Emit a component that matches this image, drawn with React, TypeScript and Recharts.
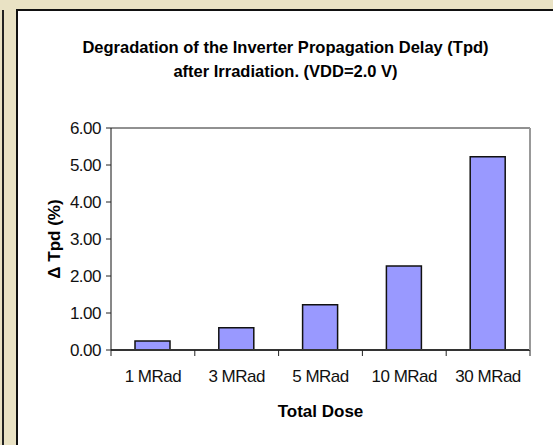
import React from "react";
import {
  BarChart,
  Bar,
  XAxis,
  YAxis,
  CartesianGrid,
} from "recharts";

const categories = ["1 MRad", "3 MRad", "5 MRad", "10 MRad", "30 MRad"];
const deltaTpd = [0.24, 0.6, 1.22, 2.27, 5.22];
const yTicks = [0, 1, 2, 3, 4, 5, 6];

const FONT = "'Liberation Sans', Arial, sans-serif";
const PLOT_LEFT = 111;
const PLOT_RIGHT = 530;
const BAND = (PLOT_RIGHT - PLOT_LEFT) / categories.length;

// category labels with tick marks between the categories (Excel style)
const DoseTick = (props: any) => {
  const { x, y, payload, index } = props;
  const left = x - BAND / 2;
  return (
    <g>
      <line x1={left} y1={y} x2={left} y2={y + 6} stroke="#222" strokeWidth={1} />
      {index === categories.length - 1 && (
        <line x1={x + BAND / 2} y1={y} x2={x + BAND / 2} y2={y + 6} stroke="#222" strokeWidth={1} />
      )}
      <text
        x={x}
        y={y + 32}
        textAnchor="middle"
        fontSize={17}
        letterSpacing={-0.5}
        fill="#111"
        fontFamily={FONT}
      >
        {payload.value}
      </text>
    </g>
  );
};

export default function App() {
  const data = categories.map((dose, i) => ({ dose, tpd: deltaTpd[i] }));

  return (
    <div
      style={{
        position: "fixed",
        left: 0,
        top: 0,
        width: 553,
        height: 445,
        background: "#e9e2c4",
        overflow: "hidden",
        fontFamily: FONT,
      }}
    >
      {/* dark strip on the far left */}
      <div style={{ position: "absolute", left: 2, top: 10, width: 2, height: 440, background: "#222" }} />
      {/* white chart sheet */}
      <div
        style={{
          position: "absolute",
          left: 16,
          top: 9,
          width: 545,
          height: 445,
          background: "#fff",
          borderLeft: "2px solid #111",
          borderTop: "2px solid #111",
        }}
      />
      <div
        style={{
          position: "absolute",
          left: 18,
          top: 35,
          width: 535,
          textAlign: "center",
          fontWeight: "bold",
          fontSize: 16.5,
          lineHeight: "24px",
          color: "#000",
        }}
      >
        Degradation of the Inverter Propagation Delay (Tpd)
        <br />
        after Irradiation. (VDD=2.0 V)
      </div>
      <div style={{ position: "absolute", left: 0, top: 0 }}>
        <BarChart
          width={553}
          height={445}
          data={data}
          margin={{ top: 128, right: 22, bottom: 20, left: 20 }}
          barCategoryGap={0}
        >
          <CartesianGrid vertical={false} stroke="#222" strokeWidth={1} />
          <XAxis
            dataKey="dose"
            height={75}
            interval={0}
            tickLine={false}
            tickSize={0}
            tickMargin={0}
            axisLine={{ stroke: "#333", strokeWidth: 2 }}
            tick={<DoseTick />}
            label={{
              value: "Total Dose",
              position: "insideBottom",
              offset: 8,
              style: { fontWeight: "bold", fontSize: 17, fill: "#000", fontFamily: FONT },
            }}
          />
          <YAxis
            yAxisId="left"
            width={91}
            domain={[0, 6]}
            ticks={yTicks}
            tickFormatter={(v: number) => v.toFixed(2)}
            tickSize={5}
            tickMargin={5}
            tickLine={{ stroke: "#222" }}
            axisLine={{ stroke: "#111", strokeWidth: 1 }}
            tick={{ fontSize: 17, fill: "#111", fontFamily: FONT, letterSpacing: -0.5 }}
            label={{
              value: "\u0394 Tpd (%)",
              angle: -90,
              position: "insideLeft",
              offset: 34,
              style: { fontWeight: "bold", fontSize: 17, fill: "#000", fontFamily: FONT, textAnchor: "middle" },
            }}
          />
          <YAxis
            yAxisId="right"
            orientation="right"
            width={1}
            domain={[0, 6]}
            tick={false}
            tickLine={false}
            axisLine={{ stroke: "#999", strokeWidth: 2 }}
          />
          <Bar
            yAxisId="left"
            dataKey="tpd"
            barSize={35}
            fill="#9999ff"
            stroke="#111"
            strokeWidth={1.5}
            isAnimationActive={false}
          />
        </BarChart>
      </div>
    </div>
  );
}
